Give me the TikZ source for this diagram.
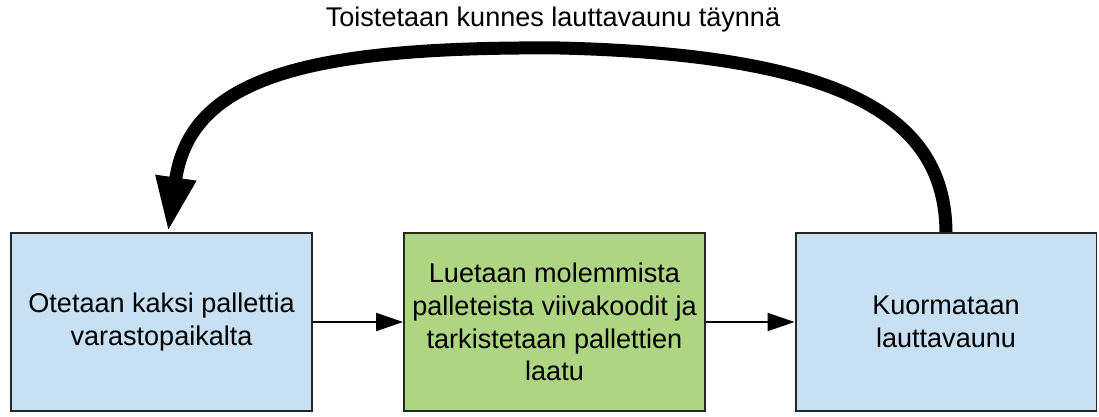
\documentclass[tikz,border=0pt]{standalone}
\usepackage{fontspec}
\setmainfont{Liberation Sans}
\usetikzlibrary{arrows.meta}
\definecolor{boxblue}{HTML}{C7E0F4}
\definecolor{boxgreen}{HTML}{AED581}

\begin{document}
\begin{tikzpicture}[x=0.02cm,y=-0.02cm,
    font=\fontsize{15.4}{18.6}\selectfont,
    stage/.style={draw=black!85,line width=1.1pt,fill=boxblue,minimum width=6.02cm,
        minimum height=3.56cm,align=center,inner sep=0pt},
    flow/.style={-{Triangle[length=0.54cm,width=0.36cm]},line width=1.1pt}]
    \useasboundingbox (0,0) rectangle (1099,416);
    \node[stage] (nouto) at (161.5,322) {Otetaan kaksi pallettia\\varastopaikalta};
    \node[stage,fill=boxgreen] (luku) at (554.5,322) {Luetaan molemmista\\palleteista viivakoodit ja\\tarkistetaan pallettien\\laatu};
    \node[stage] (kuormaus) at (946,322) {Kuormataan\\lauttavaunu};
    \draw[flow] (nouto) -- (luku);
    \draw[flow] (luku) -- (kuormaus);
    \coordinate (huippu) at (560,48);
    \draw[line width=0.26cm,-{Triangle[length=1.1cm,width=0.75cm]}] (kuormaus.north)
        .. controls (945,120) and (850,55) .. (huippu)
        .. controls (300,46) and (190,80) .. ([xshift=0.13cm]nouto.north);
    \node (toisto) at (553,20) {Toistetaan kunnes lauttavaunu täynnä};
\end{tikzpicture}
\end{document}
